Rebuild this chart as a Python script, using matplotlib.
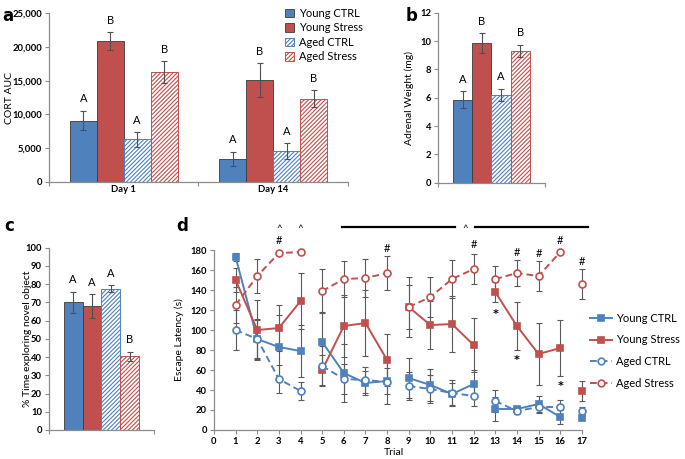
import numpy as np
import matplotlib
matplotlib.use("Agg")
import matplotlib.pyplot as plt
from matplotlib.lines import Line2D
from matplotlib.ticker import StrMethodFormatter

plt.rcParams['font.family'] = ['Lato', 'DejaVu Sans']
plt.rcParams['hatch.linewidth'] = 0.8

# ---- data ----
groups = ['Young CTRL', 'Young Stress', 'Aged CTRL', 'Aged Stress']
days = ['Day 1', 'Day 14']

# panel a: CORT AUC
cort_young_ctrl = [9100, 3400]
cort_young_stress = [20900, 15100]
cort_aged_ctrl = [6300, 4600]
cort_aged_stress = [16300, 12300]
cort_young_ctrl_err = [1450, 1100]
cort_young_stress_err = [1300, 2450]
cort_aged_ctrl_err = [1100, 1150]
cort_aged_stress_err = [1600, 1250]
cort_letters = ['A', 'B', 'A', 'B']

# panel b: adrenal weight
adrenal_mean = [5.85, 9.85, 6.2, 9.3]
adrenal_err = [0.6, 0.7, 0.45, 0.45]
adrenal_letters = ['A', 'B', 'A', 'B']

# panel c: novel object
novel_mean = [70, 68, 77.5, 40.5]
novel_err = [6, 6.5, 1.8, 2.5]
novel_letters = ['A', 'A', 'A', 'B']

# panel d: escape latency, trials 1-17
trials = list(range(1, 18))
blocks = [(1, 4), (5, 8), (9, 12), (13, 16), (17, 17)]
young_ctrl = [173, 91, 83, 79, 88, 57, 47, 49, 52, 45, 36, 46, 21, 21, 26, 13, 12]
young_ctrl_err = [4, 20, 32, 26, 30, 29, 12, 13, 20, 16, 11, 14, 12, 3, 8, 7, 2]
young_stress = [150, 100, 102, 129, 60, 104, 107, 70, 123, 105, 106, 85, 138, 104, 76, 82, 39]
young_stress_err = [12, 30, 23, 28, 15, 31, 33, 26, 22, 24, 28, 27, 10, 24, 31, 28, 10]
aged_ctrl = [100, 91, 51, 39, 64, 51, 50, 48, 44, 41, 37, 34, 29, 19, 23, 23, 19]
aged_ctrl_err = [20, 19, 14, 9, 20, 15, 13, 22, 14, 14, 13, 10, 11, 3, 6, 7, 4]
aged_stress = [125, 154, 177, 178, 139, 151, 152, 157, 123, 133, 151, 161, 151, 157, 154, 178, 146]
aged_stress_err = [18, 17, 2, 1, 22, 18, 19, 17, 30, 20, 19, 15, 13, 13, 15, 1, 15]
hash_trials = [3, 8, 12, 14, 15, 16, 17]
hash_y = [190, 182, 186, 178, 177, 190, 169]
caret_trials = [3, 4]
star_trials = [13, 14, 16]
star_y = [116, 70, 44]

BLUE = '#4F81BD'
RED = '#C0504D'
ERR = '#505050'
SPINE = '#8c8c8c'
colors = [BLUE, RED, BLUE, RED]
hatched = [False, False, True, True]

fig = plt.figure(figsize=(6.85, 4.59), dpi=100)
ax_a = fig.add_axes([0.0715, 0.6035, 0.4365, 0.368])
ax_b = fig.add_axes([0.6394, 0.602, 0.1562, 0.370])
ax_c = fig.add_axes([0.0715, 0.0632, 0.1533, 0.397])
ax_d = fig.add_axes([0.3124, 0.0632, 0.537, 0.392])


def style_axis(ax):
    for s in ['top', 'right']:
        ax.spines[s].set_visible(False)
    for s in ['left', 'bottom']:
        ax.spines[s].set_color(SPINE)
        ax.spines[s].set_linewidth(0.9)
    ax.tick_params(axis='both', which='both', color=SPINE, length=3, width=0.8,
                   labelsize=6.8, pad=2)
    for lab in ax.get_yticklabels() + ax.get_xticklabels():
        lab.set_fontweight('bold')


def draw_bars(ax, x, heights, errs, i, width=0.18):
    if hatched[i]:
        bars = ax.bar(x, heights, width, color='white', edgecolor=colors[i],
                      hatch='////////', linewidth=0.7, label=groups[i], zorder=2)
    else:
        bars = ax.bar(x, heights, width, color=colors[i], edgecolor='#3a3a3a',
                      linewidth=0.6, label=groups[i], zorder=2)
    ax.errorbar(x, heights, yerr=errs, fmt='none', ecolor=ERR, elinewidth=0.8,
                capsize=2.5, capthick=0.8, zorder=3)
    return bars


def letters(ax, x, tops, labs):
    for xi, t, l in zip(x, tops, labs):
        ax.annotate(l, (xi, t), xytext=(0, 4.5), textcoords='offset points',
                    ha='center', va='bottom', fontsize=8)


offsets = np.array([-1.5, -0.5, 0.5, 1.5]) * 0.18

# ---- panel a ----
x_days = np.arange(len(days))
cort_vals = [cort_young_ctrl, cort_young_stress, cort_aged_ctrl, cort_aged_stress]
cort_errs = [cort_young_ctrl_err, cort_young_stress_err, cort_aged_ctrl_err, cort_aged_stress_err]
handles = []
for i in range(4):
    xb = x_days + offsets[i]
    handles.append(draw_bars(ax_a, xb, cort_vals[i], cort_errs[i], i))
    letters(ax_a, xb, np.array(cort_vals[i]) + np.array(cort_errs[i]), [cort_letters[i]] * 2)
ax_a.set_xlim(-0.5, 1.5)
ax_a.set_ylim(0, 25000)
ax_a.set_yticks(range(0, 25001, 5000))
ax_a.yaxis.set_major_formatter(StrMethodFormatter('{x:,.0f}'))
ax_a.set_xticks(x_days)
ax_a.set_xticklabels(days)
ax_a.set_xticks([-0.5, 0.5, 1.5], minor=True)
ax_a.set_ylabel('CORT AUC', fontsize=7.5)
ax_a.yaxis.set_label_coords(-0.117, 0.5)
style_axis(ax_a)
ax_a.tick_params(axis='x', which='major', length=0)
fig.legend(handles=handles, labels=groups, loc='upper left',
           bbox_to_anchor=(0.405, 1.0), frameon=False, fontsize=8,
           handlelength=0.75, handleheight=0.75, handletextpad=0.5,
           labelspacing=0.32, borderpad=0.2)

# ---- panel b ----
for i in range(4):
    draw_bars(ax_b, [offsets[i]], [adrenal_mean[i]], [adrenal_err[i]], i)
letters(ax_b, offsets, np.array(adrenal_mean) + np.array(adrenal_err), adrenal_letters)
ax_b.set_xlim(-0.5, 0.5)
ax_b.set_ylim(0, 12)
ax_b.set_yticks(range(0, 13, 2))
ax_b.set_xticks([-0.5, 0.5])
ax_b.set_xticklabels([])
ax_b.set_ylabel('Adrenal Weight (mg)', fontsize=7.5)
ax_b.yaxis.set_label_coords(-0.224, 0.5)
style_axis(ax_b)

# ---- panel c ----
for i in range(4):
    draw_bars(ax_c, [offsets[i]], [novel_mean[i]], [novel_err[i]], i)
letters(ax_c, offsets, np.array(novel_mean) + np.array(novel_err), novel_letters)
ax_c.set_xlim(-0.5, 0.5)
ax_c.set_ylim(0, 100)
ax_c.set_yticks(range(0, 101, 10))
ax_c.set_xticks([-0.5, 0.5])
ax_c.set_xticklabels([])
ax_c.set_ylabel('% Time exploring novel object', fontsize=7.5)
ax_c.yaxis.set_label_coords(-0.162, 0.5)
style_axis(ax_c)

# ---- panel d ----
series = [
    (young_ctrl, young_ctrl_err, BLUE, '-', 's', BLUE),
    (young_stress, young_stress_err, RED, '-', 's', RED),
    (aged_ctrl, aged_ctrl_err, BLUE, (0, (3.5, 2)), 'o', 'white'),
    (aged_stress, aged_stress_err, RED, (0, (3.5, 2)), 'o', 'white'),
]
t_arr = np.array(trials)
for vals, errs, col, ls, mk, mfc in series:
    ax_d.errorbar(t_arr, vals, yerr=errs, fmt='none', ecolor='#5a5a5a',
                  elinewidth=0.8, capsize=2.2, capthick=0.8, zorder=2, clip_on=False)
    vals = np.array(vals)
    for a, b in blocks:
        m = (t_arr >= a) & (t_arr <= b)
        ax_d.plot(t_arr[m], vals[m], linestyle=ls, color=col, lw=1.4,
                  marker=mk, markersize=4.8 if mk == 's' else 5,
                  markerfacecolor=mfc, markeredgecolor=col, markeredgewidth=1.2,
                  zorder=3, clip_on=False)
ax_d.set_xlim(0, 17)
ax_d.set_ylim(0, 180)
ax_d.set_xticks(range(0, 18))
ax_d.set_yticks(range(0, 181, 20))
ax_d.set_xlabel('Trial', fontsize=7.5)
ax_d.xaxis.set_label_coords(0.49, -0.1)
ax_d.set_ylabel('Escape Latency (s)', fontsize=7.5)
ax_d.yaxis.set_label_coords(-0.082, 0.5)
style_axis(ax_d)

for t, yv in zip(hash_trials, hash_y):
    ax_d.text(t, yv, '#', ha='center', va='center', fontsize=8, clip_on=False)
for t in caret_trials:
    ax_d.text(t, 202, '^', ha='center', va='center', fontsize=7, clip_on=False)
for t, yv in zip(star_trials, star_y):
    ax_d.text(t, yv, '*', ha='center', va='center', fontsize=8, family='DejaVu Sans',
              fontweight='bold', clip_on=False)
ax_d.plot([5.9, 11.15], [203, 203], color='black', lw=1.6, clip_on=False)
ax_d.plot([12.05, 17.3], [203, 203], color='black', lw=1.6, clip_on=False)
ax_d.text(11.6, 202, '^', ha='center', va='center', fontsize=7, clip_on=False)

d_handles = [Line2D([], [], color=c, linestyle=ls, lw=1.4, marker=mk,
                    markersize=4.8, markerfacecolor=mfc, markeredgecolor=c,
                    markeredgewidth=1.2)
             for _, _, c, ls, mk, mfc in series]
fig.legend(handles=d_handles, labels=groups, loc='center left',
           bbox_to_anchor=(0.862, 0.236), frameon=False, fontsize=8,
           handlelength=1.9, handletextpad=0.4, labelspacing=0.95,
           borderpad=0, borderaxespad=0)

# panel letters
for lab, x, y in [('a', 0.004, 0.985), ('b', 0.592, 0.985), ('c', 0.006, 0.528), ('d', 0.258, 0.528)]:
    fig.text(x, y, lab, fontsize=12, fontweight='bold', family='DejaVu Sans',
             va='top', ha='left')

fig.savefig('out.png', dpi=100)
